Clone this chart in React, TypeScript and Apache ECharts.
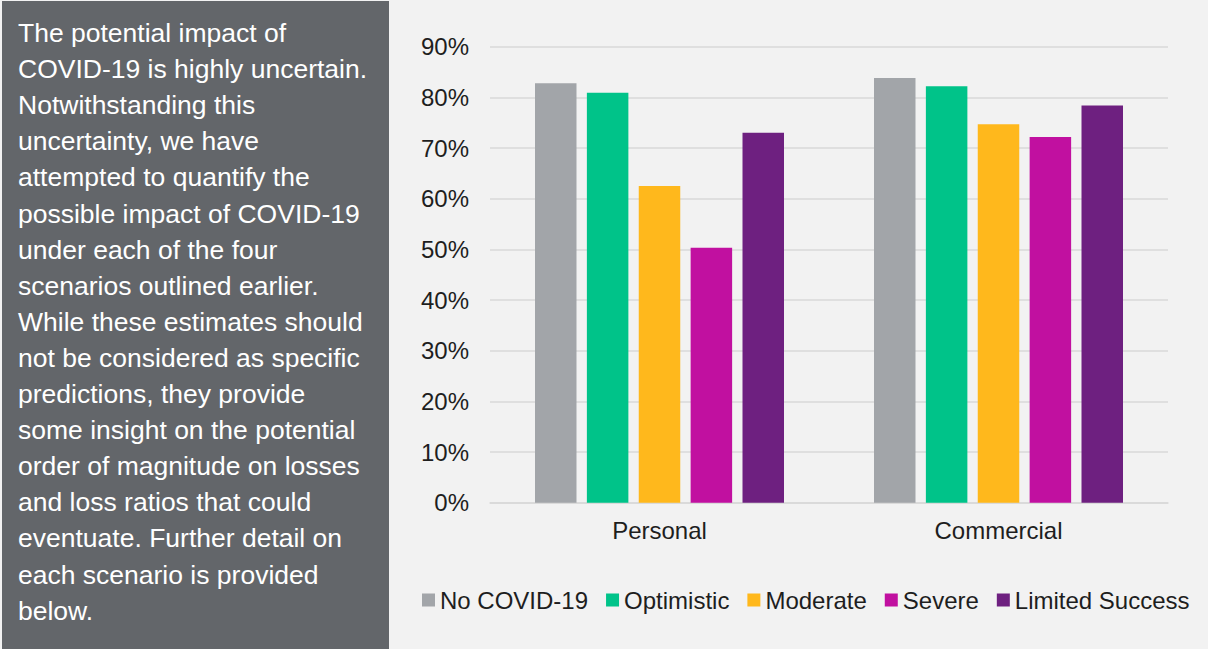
import React, { useEffect, useRef } from "react";
import * as echarts from "echarts";

// Loss ratio by line of business under each COVID-19 scenario (%)
const categories = ["Personal", "Commercial"];
const scenarios = ["No COVID-19", "Optimistic", "Moderate", "Severe", "Limited Success"];
const noCovid = [82.8, 83.8];
const optimistic = [80.9, 82.2];
const moderate = [62.5, 74.7];
const severe = [50.3, 72.2];
const limitedSuccess = [73.0, 78.4];
const seriesValues = [noCovid, optimistic, moderate, severe, limitedSuccess];
const seriesColors = ["#a2a5a9", "#00c389", "#ffb81c", "#c110a0", "#6e2080"];

const panelLines = [
  "The potential impact of",
  "COVID-19 is highly uncertain.",
  "Notwithstanding this",
  "uncertainty, we have",
  "attempted to quantify the",
  "possible impact of COVID-19",
  "under each of the four",
  "scenarios outlined earlier.",
  "While these estimates should",
  "not be considered as specific",
  "predictions, they provide",
  "some insight on the potential",
  "order of magnitude on losses",
  "and loss ratios that could",
  "eventuate. Further detail on",
  "each scenario is provided",
  "below.",
];

const FONT = "'Liberation Sans', Arial, Helvetica, sans-serif";
const TEXT_COLOR = "#1e1e1e";

export default function App() {
  const ref = useRef<HTMLDivElement>(null);

  useEffect(() => {
    if (!ref.current) return;
    const chart = echarts.init(ref.current, undefined, { renderer: "svg" });
    chart.setOption({
      animation: false,
      backgroundColor: "#f2f2f2",
      textStyle: { fontFamily: FONT },
      graphic: [
        {
          type: "rect",
          left: 2,
          top: 1,
          shape: { width: 387, height: 648 },
          style: { fill: "#63666a" },
          silent: true,
        },
        {
          type: "text",
          left: 18,
          top: 15,
          style: {
            text: panelLines.join("\n"),
            fill: "#ffffff",
            font: `26.5px ${FONT}`,
            lineHeight: 36.1,
            verticalAlign: "top",
          },
          silent: true,
        },
      ],
      grid: { left: 490, right: 40, top: 46.7, bottom: 146.3 },
      legend: {
        left: 422,
        top: 588,
        padding: 0,
        icon: "rect",
        itemWidth: 13,
        itemHeight: 13,
        itemGap: 18,
        data: scenarios,
        textStyle: { fontSize: 24, color: TEXT_COLOR, fontFamily: FONT },
      },
      xAxis: {
        type: "category",
        data: categories,
        axisTick: { show: false },
        axisLine: { lineStyle: { color: "#d9d9d9", width: 1.5 } },
        axisLabel: { fontSize: 24, color: TEXT_COLOR, margin: 16, fontFamily: FONT },
      },
      yAxis: {
        type: "value",
        min: 0,
        max: 90,
        interval: 10,
        axisLabel: {
          formatter: "{value}%",
          fontSize: 24,
          color: TEXT_COLOR,
          margin: 21,
          fontFamily: FONT,
        },
        splitLine: { lineStyle: { color: "#d9d9d9", width: 1.5 } },
        axisLine: { show: false },
        axisTick: { show: false },
      },
      series: scenarios.map((name, i) => ({
        name,
        type: "bar",
        data: seriesValues[i],
        barWidth: 41.5,
        barGap: "25%",
        itemStyle: { color: seriesColors[i] },
      })),
    });
    return () => chart.dispose();
  }, []);

  return (
    <div
      ref={ref}
      style={{ position: "fixed", left: 0, top: 0, width: 1208, height: 649 }}
    />
  );
}
